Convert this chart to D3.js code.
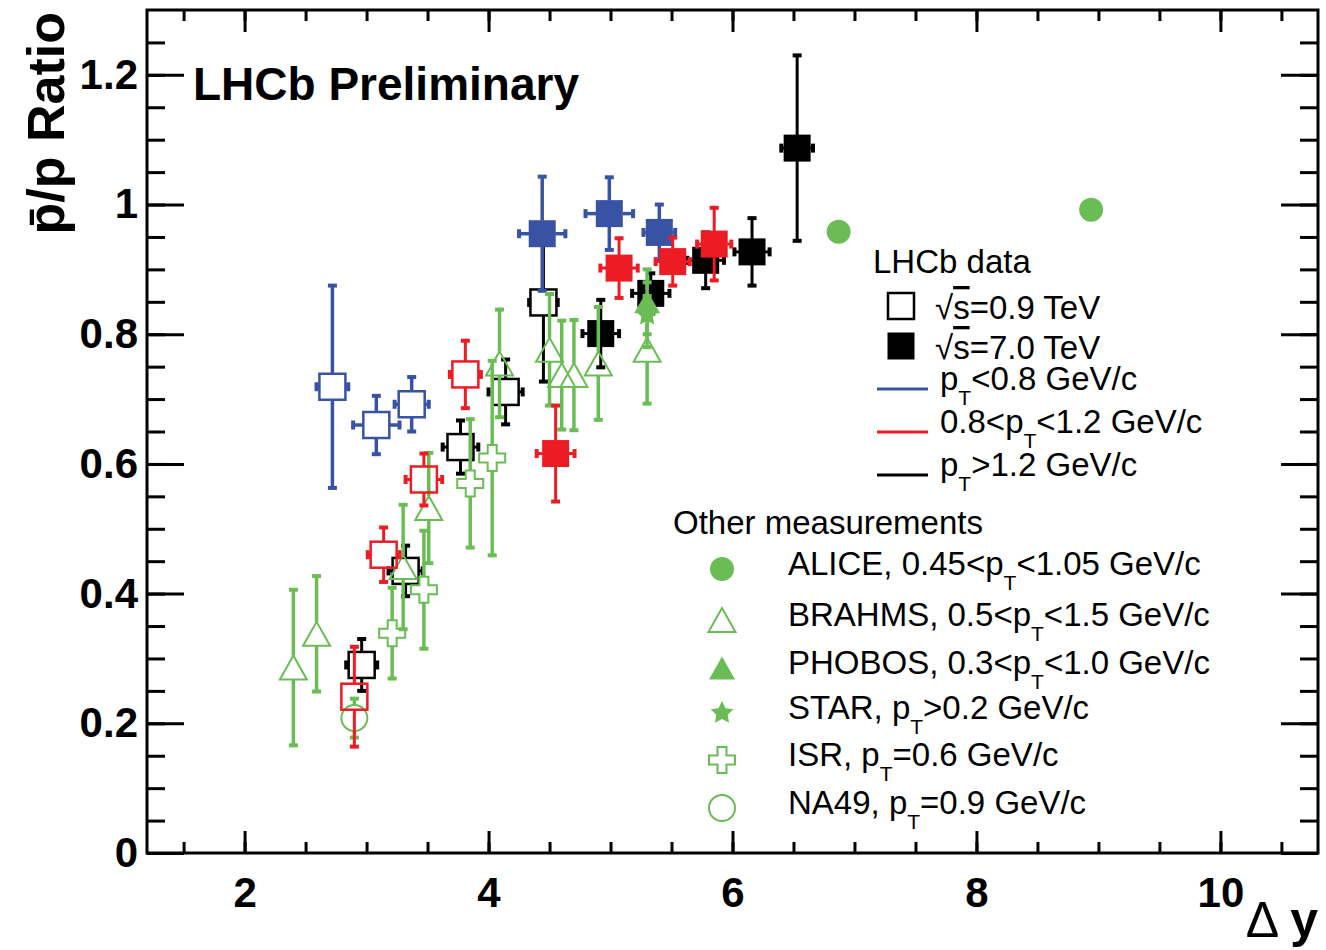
<!DOCTYPE html>
<html>
<head>
<meta charset="utf-8">
<script src="https://cdn.jsdelivr.net/npm/d3@7"></script>
<style>
  body { margin: 0; background: #fff; }
  text { font-family: "Liberation Sans", Arial, Helvetica, sans-serif; }
</style>
</head>
<body>
<div class="chart"></div>
<script>
// Rows are [delta y, ratio, x error, y error]
var lhcb09Low = [[2.72, 0.719, 0.13, 0.156], [3.08, 0.660, 0.19, 0.045], [3.37, 0.692, 0.14, 0.042]];
var lhcb70Low = [[4.44, 0.955, 0.19, 0.088], [4.99, 0.986, 0.195, 0.056], [5.40, 0.957, 0.13, 0.043]];
var lhcb09Mid = [[2.90, 0.241, 0.08, 0.077], [3.14, 0.460, 0.13, 0.042], [3.47, 0.576, 0.15, 0.040], [3.81, 0.738, 0.127, 0.052]];
var lhcb70Mid = [[4.55, 0.616, 0.155, 0.074], [5.07, 0.902, 0.153, 0.046], [5.51, 0.912, 0.14, 0.037], [5.85, 0.939, 0.14, 0.056]];
var lhcb09High = [[2.96, 0.290, 0.127, 0.040], [3.32, 0.435, 0.14, 0.039], [3.77, 0.626, 0.146, 0.041], [4.14, 0.711, 0.14, 0.050], [4.45, 0.849, 0.117, 0.122]];
var lhcb70High = [[4.92, 0.801, 0.15, 0.052], [5.33, 0.863, 0.153, 0.031], [5.78, 0.914, 0.15, 0.043], [6.16, 0.927, 0.144, 0.052], [6.53, 1.087, 0.13, 0.143]];

var alice = [[6.87, 0.958, 0, 0.01], [8.94, 0.992, 0, 0.01]];
var brahms = [[2.40, 0.286, 0, 0.12], [2.59, 0.338, 0, 0.089], [3.30, 0.441, 0, 0.096], [3.51, 0.532, 0, 0.085],
  [4.09, 0.755, 0, 0.083], [4.50, 0.776, 0, 0.086], [4.60, 0.737, 0, 0.084], [4.70, 0.737, 0, 0.085],
  [4.90, 0.755, 0, 0.087], [5.30, 0.776, 0, 0.083]];
var phobos = [[5.30, 0.850, 0, 0.05]];
var star = [[5.30, 0.830, 0, 0.05]];
var isr = [[3.21, 0.339, 0, 0.07], [3.47, 0.406, 0, 0.091], [3.85, 0.570, 0, 0.099], [4.03, 0.609, 0, 0.15]];
var na49 = [[2.90, 0.208, 0, 0.03]];

var xMajorTicks = [2, 4, 6, 8, 10];
var yMajorTicks = [0, 0.2, 0.4, 0.6, 0.8, 1.0, 1.2];
var yTickLabels = ["0", "0.2", "0.4", "0.6", "0.8", "1", "1.2"];

var blue = "#3953a4", red = "#ed1c24", green = "#6abd55";

var svgWidth = 1326;
var svgHeight = 950;
var margin = { top: 10, right: 8, bottom: 97, left: 147 };
var width = svgWidth - margin.left - margin.right;
var height = svgHeight - margin.top - margin.bottom;

var svg = d3.select(".chart").append("svg")
  .attr("width", svgWidth)
  .attr("height", svgHeight);

var chartGroup = svg.append("g")
  .attr("transform", `translate(${margin.left}, ${margin.top})`);

var x = d3.scaleLinear().domain([1.2, 10.8]).range([0, width]);
var y = d3.scaleLinear().domain([0, 1.3]).range([height, 0]);

//__________________________________________________________________________________
// Axes: ticks point inward, on all four sides
var xMinor = d3.range(1.5, 10.8, 0.5);
var yMinor = d3.range(0, 1.3, 0.05);

function styleAxis(g) {
  g.select(".domain").remove();
  g.selectAll("line").attr("stroke", "#000").attr("stroke-width", 3);
  g.selectAll("text").attr("font-size", 42).attr("font-weight", "bold").attr("fill", "#000");
}

chartGroup.append("g").attr("transform", `translate(0, ${height})`)
  .call(d3.axisBottom(x).tickValues(xMinor).tickSize(-11).tickFormat("")).call(styleAxis);
chartGroup.append("g").attr("transform", `translate(0, ${height})`)
  .call(d3.axisBottom(x).tickValues(xMajorTicks).tickSize(-22).tickPadding(24).tickFormat(d3.format("d"))).call(styleAxis);
chartGroup.append("g")
  .call(d3.axisTop(x).tickValues(xMinor).tickSize(-11).tickFormat("")).call(styleAxis);
chartGroup.append("g")
  .call(d3.axisTop(x).tickValues(xMajorTicks).tickSize(-22).tickFormat("")).call(styleAxis);

chartGroup.append("g")
  .call(d3.axisLeft(y).tickValues(yMinor).tickSize(-18).tickFormat("")).call(styleAxis);
chartGroup.append("g")
  .call(d3.axisLeft(y).tickValues(yMajorTicks).tickSize(-37).tickPadding(9)
    .tickFormat((d, i) => yTickLabels[i])).call(styleAxis);
chartGroup.append("g").attr("transform", `translate(${width}, 0)`)
  .call(d3.axisRight(y).tickValues(yMinor).tickSize(-18).tickFormat("")).call(styleAxis);
chartGroup.append("g").attr("transform", `translate(${width}, 0)`)
  .call(d3.axisRight(y).tickValues(yMajorTicks).tickSize(-37).tickFormat("")).call(styleAxis);

chartGroup.append("rect")
  .attr("width", width).attr("height", height)
  .attr("fill", "none").attr("stroke", "#000").attr("stroke-width", 3);

//__________________________________________________________________________________
// Marker shapes (centered at 0,0)
function triPath(w, h) {
  return `M0,${-h / 2}L${w / 2},${h / 2}L${-w / 2},${h / 2}Z`;
}
function crossPath(s, a) {
  return `M${-a},${-s}H${a}V${-a}H${s}V${a}H${a}V${s}H${-a}V${a}H${-s}V${-a}H${-a}Z`;
}
function starPath(ro, ri) {
  var pts = [];
  for (var k = 0; k < 10; k++) {
    var r = k % 2 ? ri : ro;
    var ang = -Math.PI / 2 + k * Math.PI / 5;
    pts.push([r * Math.cos(ang), r * Math.sin(ang)]);
  }
  return "M" + pts.join("L") + "Z";
}

function drawMarker(g, kind, color) {
  if (kind === "sqOpen") {
    g.append("rect").attr("x", -13).attr("y", -13).attr("width", 26).attr("height", 26)
      .attr("fill", "none").attr("stroke", color).attr("stroke-width", 2.5);
  } else if (kind === "sqFill") {
    g.append("rect").attr("x", -13.5).attr("y", -13.5).attr("width", 27).attr("height", 27)
      .attr("fill", color);
  } else if (kind === "circFill") {
    g.append("circle").attr("r", 12).attr("fill", color);
  } else if (kind === "circOpen") {
    g.append("circle").attr("r", 13).attr("fill", "none").attr("stroke", color).attr("stroke-width", 2);
  } else if (kind === "triOpen") {
    g.append("path").attr("d", triPath(27, 24)).attr("fill", "none").attr("stroke", color).attr("stroke-width", 2);
  } else if (kind === "triFill") {
    g.append("path").attr("d", triPath(26, 23)).attr("fill", color);
  } else if (kind === "star") {
    g.append("path").attr("d", starPath(12, 6)).attr("fill", color);
  } else if (kind === "crossOpen") {
    g.append("path").attr("d", crossPath(13, 4.5)).attr("fill", "none").attr("stroke", color).attr("stroke-width", 2);
  }
}

// error bars with end caps, broken around the marker
function drawSeries(rows, kind, color, half, lw) {
  var grp = chartGroup.append("g");
  rows.forEach(function(d) {
    var cx = x(d[0]), cy = y(d[1]);
    var xl = x(d[0] - d[2]), xr = x(d[0] + d[2]);
    var yt = y(d[1] + d[3]), yb = y(d[1] - d[3]);
    var segs = [];
    if (cy - yt > half) segs.push([cx, yt, cx, cy - half]);
    if (yb - cy > half) segs.push([cx, cy + half, cx, yb]);
    if (cx - xl > half) segs.push([xl, cy, cx - half, cy]);
    if (xr - cx > half) segs.push([cx + half, cy, xr, cy]);
    segs.forEach(function(s) {
      grp.append("line").attr("x1", s[0]).attr("y1", s[1]).attr("x2", s[2]).attr("y2", s[3])
        .attr("stroke", color).attr("stroke-width", lw);
    });
    if (cy - yt > half) grp.append("rect").attr("x", cx - 4.5).attr("y", yt - 2).attr("width", 9).attr("height", 4).attr("fill", color);
    if (yb - cy > half) grp.append("rect").attr("x", cx - 4.5).attr("y", yb - 2).attr("width", 9).attr("height", 4).attr("fill", color);
    if (cx - xl > half) grp.append("rect").attr("x", xl - 2).attr("y", cy - 4.5).attr("width", 4).attr("height", 9).attr("fill", color);
    if (xr - cx > half) grp.append("rect").attr("x", xr - 2).attr("y", cy - 4.5).attr("width", 4).attr("height", 9).attr("fill", color);
    drawMarker(grp.append("g").attr("transform", `translate(${cx}, ${cy})`), kind, color);
  });
}

drawSeries(lhcb09High, "sqOpen", "#000", 13, 3);
drawSeries(lhcb70High, "sqFill", "#000", 13, 3);
drawSeries(lhcb09Low, "sqOpen", blue, 13, 3.5);
drawSeries(lhcb70Low, "sqFill", blue, 13, 3.5);
drawSeries(alice, "circFill", green, 12, 3.5);
drawSeries(brahms, "triOpen", green, 12, 3.5);
drawSeries(isr, "crossOpen", green, 13, 3.5);
drawSeries(na49, "circOpen", green, 13, 3.5);
drawSeries(phobos, "triFill", green, 12, 3.5);
drawSeries(star, "star", green, 12, 3.5);
drawSeries(lhcb09Mid, "sqOpen", red, 13, 3);
drawSeries(lhcb70Mid, "sqFill", red, 13, 3);

//__________________________________________________________________________________
// Titles
svg.append("text")
  .attr("x", 193).attr("y", 100)
  .attr("font-size", 46).attr("font-weight", "bold")
  .text("LHCb Preliminary");

svg.append("text")
  .attr("transform", "translate(64, 12) rotate(-90)")
  .attr("text-anchor", "end")
  .attr("font-size", 52).attr("font-weight", "bold")
  .text("p\u0304/p Ratio");

var xTitle = svg.append("text")
  .attr("x", 1318).attr("y", 937)
  .attr("text-anchor", "end")
  .attr("font-size", 50);
xTitle.append("tspan").text("Δ ");
xTitle.append("tspan").attr("font-weight", "bold").text("y");

//__________________________________________________________________________________
// Legends
var legendFont = 33;

function ptText(t, parts) {
  // parts: [before, after] around p_T
  t.append("tspan").text(parts[0] + "p");
  t.append("tspan").attr("font-size", 21).attr("dy", 15).text("T");
  t.append("tspan").attr("dy", -15).text(parts[1]);
}

var leg1 = svg.append("g").attr("font-size", legendFont);
leg1.append("text").attr("x", 873).attr("y", 273).text("LHCb data");

var sqRows = [["sqOpen", 306, "0.9"], ["sqFill", 346, "7.0"]];
sqRows.forEach(function(r) {
  var g = leg1.append("g").attr("transform", `translate(901, ${r[1]})`);
  drawMarker(g, r[0], "#000");
  var t = leg1.append("text").attr("x", 935).attr("y", r[1] + 13);
  t.append("tspan").text("√");
  t.append("tspan").attr("text-decoration", "overline").text("s");
  t.append("tspan").text("=" + r[2] + " TeV");
});

var lineRows = [[blue, 389, ["", "<0.8 GeV/c"]], [red, 432, ["0.8<", "<1.2 GeV/c"]], ["#000", 475, ["", ">1.2 GeV/c"]]];
lineRows.forEach(function(r) {
  leg1.append("line").attr("x1", 877).attr("x2", 928).attr("y1", r[1]).attr("y2", r[1])
    .attr("stroke", r[0]).attr("stroke-width", 3);
  ptText(leg1.append("text").attr("x", 940).attr("y", r[1] + 1), r[2]);
});

var leg2 = svg.append("g").attr("font-size", legendFont);
leg2.append("text").attr("x", 673).attr("y", 534).text("Other measurements");

var otherRows = [
  ["circFill", 569, ["ALICE, 0.45<", "<1.05 GeV/c"]],
  ["triOpen", 620, ["BRAHMS, 0.5<", "<1.5 GeV/c"]],
  ["triFill", 668, ["PHOBOS, 0.3<", "<1.0 GeV/c"]],
  ["star", 713, ["STAR, ", ">0.2 GeV/c"]],
  ["crossOpen", 760, ["ISR, ", "=0.6 GeV/c"]],
  ["circOpen", 808, ["NA49, ", "=0.9 GeV/c"]]
];
otherRows.forEach(function(r) {
  drawMarker(leg2.append("g").attr("transform", `translate(722, ${r[1]})`), r[0], green);
  ptText(leg2.append("text").attr("x", 788).attr("y", r[1] + 6), r[2]);
});
</script>
</body>
</html>
